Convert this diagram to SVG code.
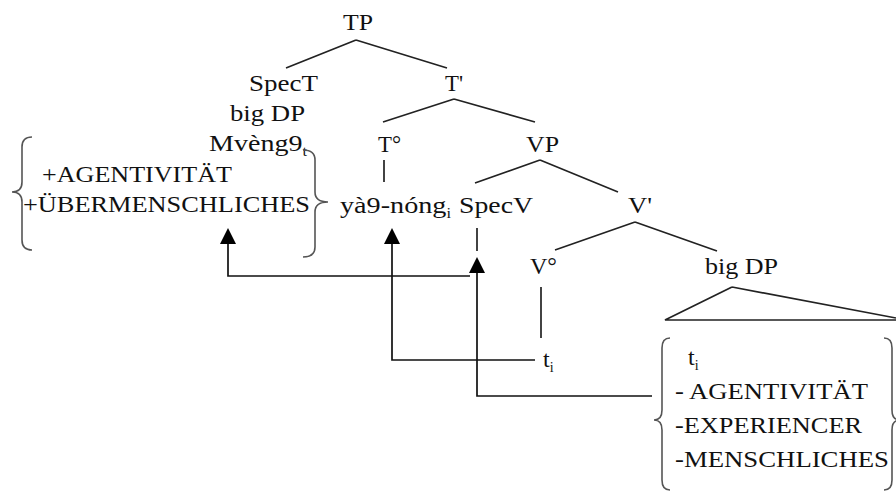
<svg xmlns="http://www.w3.org/2000/svg" width="896" height="492" viewBox="0 0 896 492">
<style>
text{font-family:"Liberation Serif","Times New Roman",serif;font-size:24px;fill:#111}
.sub{font-size:14px}
.ln{stroke:#222;stroke-width:1.7;fill:none}
.arr{stroke:#111;stroke-width:1.7;fill:none}
.br{stroke:#555;stroke-width:1.6;fill:none}
</style>
<g id="connectors">
<path class="ln" d="M356,40 L286,68 M356,40 L447,68"/>
<path class="ln" d="M454,99 L383,122 M454,99 L535,122"/>
<path class="ln" d="M384,160 V182"/>
<path class="ln" d="M540,160 L475,183 M540,160 L618,192"/>
<path class="ln" d="M635,222 L555,250 M635,222 L717,251"/>
<path class="ln" d="M541,287 V338"/>
<path class="ln" d="M477,228 V251"/>
<path class="ln" d="M732,287 L665,320 H896 M732,287 L896,318"/>
<path class="arr" d="M470,276 H228 V244"/>
<path d="M220,244 L228,228 L236,244 Z" fill="#000"/>
<path class="arr" d="M535,360 H392 V244"/>
<path d="M384,244 L392,228 L400,244 Z" fill="#000"/>
<path class="arr" d="M652,396 H477 V273"/>
<path d="M469,273 L477,257 L485,273 Z" fill="#000"/>
</g>
<g id="TP"><text x="343" y="30" textLength="30" lengthAdjust="spacingAndGlyphs">TP</text></g>
<g id="SpecT">
<text x="249" y="91" textLength="69" lengthAdjust="spacingAndGlyphs">SpecT</text>
<text x="230" y="121" textLength="75" lengthAdjust="spacingAndGlyphs">big DP</text>
<text x="209" y="151" textLength="98" lengthAdjust="spacingAndGlyphs">Mvèng9<tspan class="sub" dy="5">t</tspan></text>
</g>
<g id="features-left">
<path class="br" d="M32,137 Q22,137 22,147 V182 Q22,192 12,192 Q22,192 22,202 V240 Q22,250 32,250"/>
<path class="br" d="M303,150 Q315,150 315,160 V192 Q315,202 328,202 Q315,202 315,212 V247 Q315,257 303,257"/>
<text x="42" y="182" textLength="190" lengthAdjust="spacingAndGlyphs">+AGENTIVITÄT</text>
<text x="23" y="212" textLength="287" lengthAdjust="spacingAndGlyphs">+ÜBERMENSCHLICHES</text>
</g>
<g id="Tbar"><text x="445" y="91" textLength="18" lengthAdjust="spacingAndGlyphs">T'</text></g>
<g id="T0"><text x="378" y="152" textLength="23" lengthAdjust="spacingAndGlyphs">T°</text></g>
<g id="VP"><text x="526" y="152" textLength="33" lengthAdjust="spacingAndGlyphs">VP</text></g>
<g id="verb"><text x="340" y="213" textLength="111" lengthAdjust="spacingAndGlyphs">yà9-nóng<tspan class="sub" dy="5">i</tspan></text></g>
<g id="SpecV"><text x="459" y="213" textLength="74" lengthAdjust="spacingAndGlyphs">SpecV</text></g>
<g id="Vbar"><text x="628" y="213" textLength="24" lengthAdjust="spacingAndGlyphs">V'</text></g>
<g id="V0"><text x="530" y="274" textLength="27" lengthAdjust="spacingAndGlyphs">V°</text></g>
<g id="bigDP"><text x="705" y="274" textLength="73" lengthAdjust="spacingAndGlyphs">big DP</text></g>
<g id="trace"><text x="543" y="367">t<tspan class="sub" dy="5">i</tspan></text></g>
<g id="features-right">
<path class="br" d="M670,338 Q662,338 662,348 V410 Q662,420 654,420 Q662,420 662,430 V480 Q662,490 670,490"/>
<path class="br" d="M884,338 Q892,338 892,348 V410 Q892,420 900,420 Q892,420 892,430 V480 Q892,490 884,490"/>
<text x="688" y="365">t<tspan class="sub" dy="5">i</tspan></text>
<text x="675" y="399" textLength="193" lengthAdjust="spacingAndGlyphs">- AGENTIVITÄT</text>
<text x="675" y="433" textLength="187" lengthAdjust="spacingAndGlyphs">-EXPERIENCER</text>
<text x="675" y="467" textLength="214" lengthAdjust="spacingAndGlyphs">-MENSCHLICHES</text>
</g>
</svg>
